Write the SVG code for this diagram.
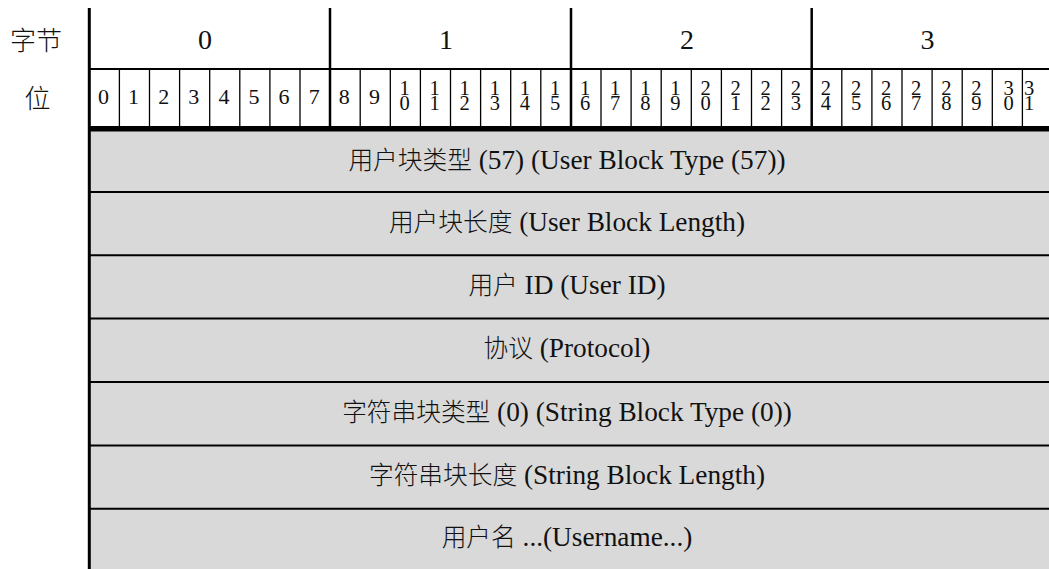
<svg xmlns="http://www.w3.org/2000/svg" width="1049" height="569" viewBox="0 0 1049 569">
<style>
.t{font-family:"Liberation Serif","Noto Sans CJK SC",serif;fill:#111;text-anchor:middle}
.lab{font-size:26px;font-weight:300}
.byte{font-size:28px}
.bit{font-size:22px}
.bit2{font-size:20.5px}
.row{font-size:27.3px}
.cj{font-size:24.7px;font-weight:300}
.fill{fill:#d9d9d9}
.ln{stroke:#000;fill:none}
</style>
<rect width="1049" height="569" fill="#fff"/>
<g id="labels">
<text class="t lab" x="36" y="50">字节</text>
<text class="t lab" x="37.5" y="108">位</text>
</g>
<g id="fields">
<rect class="fill" x="89" y="131" width="960" height="438"/>
<g id="r1"><text class="t row" x="567" y="168.5"><tspan class="cj">用户块类型</tspan> (57) (User Block Type (57))</text></g>
<g id="r2"><text class="t row" x="567" y="230.7"><tspan class="cj">用户块长度</tspan> (User Block Length)</text></g>
<g id="r3"><text class="t row" x="567" y="294"><tspan class="cj">用户</tspan> ID (User ID)</text></g>
<g id="r4"><text class="t row" x="567" y="357.3"><tspan class="cj">协议</tspan> (Protocol)</text></g>
<g id="r5"><text class="t row" x="567" y="420.7"><tspan class="cj">字符串块类型</tspan> (0) (String Block Type (0))</text></g>
<g id="r6"><text class="t row" x="567" y="484"><tspan class="cj">字符串块长度</tspan> (String Block Length)</text></g>
<g id="r7"><text class="t row" x="567" y="546"><tspan class="cj">用户名</tspan> ...(Username...)</text></g>
</g>
<g id="bytes">
<text class="t byte" x="205" y="49">0</text>
<text class="t byte" x="446" y="49">1</text>
<text class="t byte" x="687" y="49">2</text>
<text class="t byte" x="927.5" y="49">3</text>
</g>
<g id="bits">
<text class="t bit" x="103.5" y="104">0</text>
<text class="t bit" x="133.6" y="104">1</text>
<text class="t bit" x="163.7" y="104">2</text>
<text class="t bit" x="193.8" y="104">3</text>
<text class="t bit" x="223.9" y="104">4</text>
<text class="t bit" x="254" y="104">5</text>
<text class="t bit" x="284.1" y="104">6</text>
<text class="t bit" x="314.2" y="104">7</text>
<text class="t bit" x="344.3" y="104">8</text>
<text class="t bit" x="374.4" y="104">9</text>
<g class="t bit2">
<text><tspan x="404.5" y="95">1</tspan><tspan x="404.5" y="110">0</tspan></text>
<text><tspan x="434.6" y="95">1</tspan><tspan x="434.6" y="110">1</tspan></text>
<text><tspan x="464.7" y="95">1</tspan><tspan x="464.7" y="110">2</tspan></text>
<text><tspan x="494.8" y="95">1</tspan><tspan x="494.8" y="110">3</tspan></text>
<text><tspan x="524.9" y="95">1</tspan><tspan x="524.9" y="110">4</tspan></text>
<text><tspan x="555" y="95">1</tspan><tspan x="555" y="110">5</tspan></text>
<text><tspan x="585.1" y="95">1</tspan><tspan x="585.1" y="110">6</tspan></text>
<text><tspan x="615.2" y="95">1</tspan><tspan x="615.2" y="110">7</tspan></text>
<text><tspan x="645.3" y="95">1</tspan><tspan x="645.3" y="110">8</tspan></text>
<text><tspan x="675.4" y="95">1</tspan><tspan x="675.4" y="110">9</tspan></text>
<text><tspan x="705.5" y="95">2</tspan><tspan x="705.5" y="110">0</tspan></text>
<text><tspan x="735.6" y="95">2</tspan><tspan x="735.6" y="110">1</tspan></text>
<text><tspan x="765.7" y="95">2</tspan><tspan x="765.7" y="110">2</tspan></text>
<text><tspan x="795.8" y="95">2</tspan><tspan x="795.8" y="110">3</tspan></text>
<text><tspan x="825.9" y="95">2</tspan><tspan x="825.9" y="110">4</tspan></text>
<text><tspan x="856" y="95">2</tspan><tspan x="856" y="110">5</tspan></text>
<text><tspan x="886.1" y="95">2</tspan><tspan x="886.1" y="110">6</tspan></text>
<text><tspan x="916.2" y="95">2</tspan><tspan x="916.2" y="110">7</tspan></text>
<text><tspan x="946.3" y="95">2</tspan><tspan x="946.3" y="110">8</tspan></text>
<text><tspan x="976.4" y="95">2</tspan><tspan x="976.4" y="110">9</tspan></text>
<text><tspan x="1008.5" y="95">3</tspan><tspan x="1008.5" y="110">0</tspan></text>
<text><tspan x="1029" y="95">3</tspan><tspan x="1029" y="110">1</tspan></text>
</g>
</g>
<g id="connectors">
<path class="ln" stroke-width="1.3" d="M119.4 69V127M149.5 69V127M179.6 69V127M209.7 69V127M239.8 69V127M269.9 69V127M300 69V127M360.2 69V127M390.3 69V127M420.4 69V127M450.5 69V127M480.6 69V127M510.7 69V127M540.8 69V127M601 69V127M631.1 69V127M661.2 69V127M691.3 69V127M721.4 69V127M751.5 69V127M781.6 69V127M841.8 69V127M871.9 69V127M902 69V127M932.1 69V127M962.2 69V127M992.3 69V127M1022.4 69V127"/>
<path class="ln" stroke-width="2.5" d="M330 8V129M571 8V129M811.7 8V129"/>
<path class="ln" stroke-width="2" d="M89 69H1049"/>
<path class="ln" stroke-width="5.5" d="M89 128.8H1049"/>
<path class="ln" stroke-width="2" d="M89 192H1049M89 255.3H1049M89 318.6H1049M89 382H1049M89 445.5H1049M89 508.8H1049"/>
<path class="ln" stroke-width="3" d="M89.3 8V569"/>
</g>
</svg>
